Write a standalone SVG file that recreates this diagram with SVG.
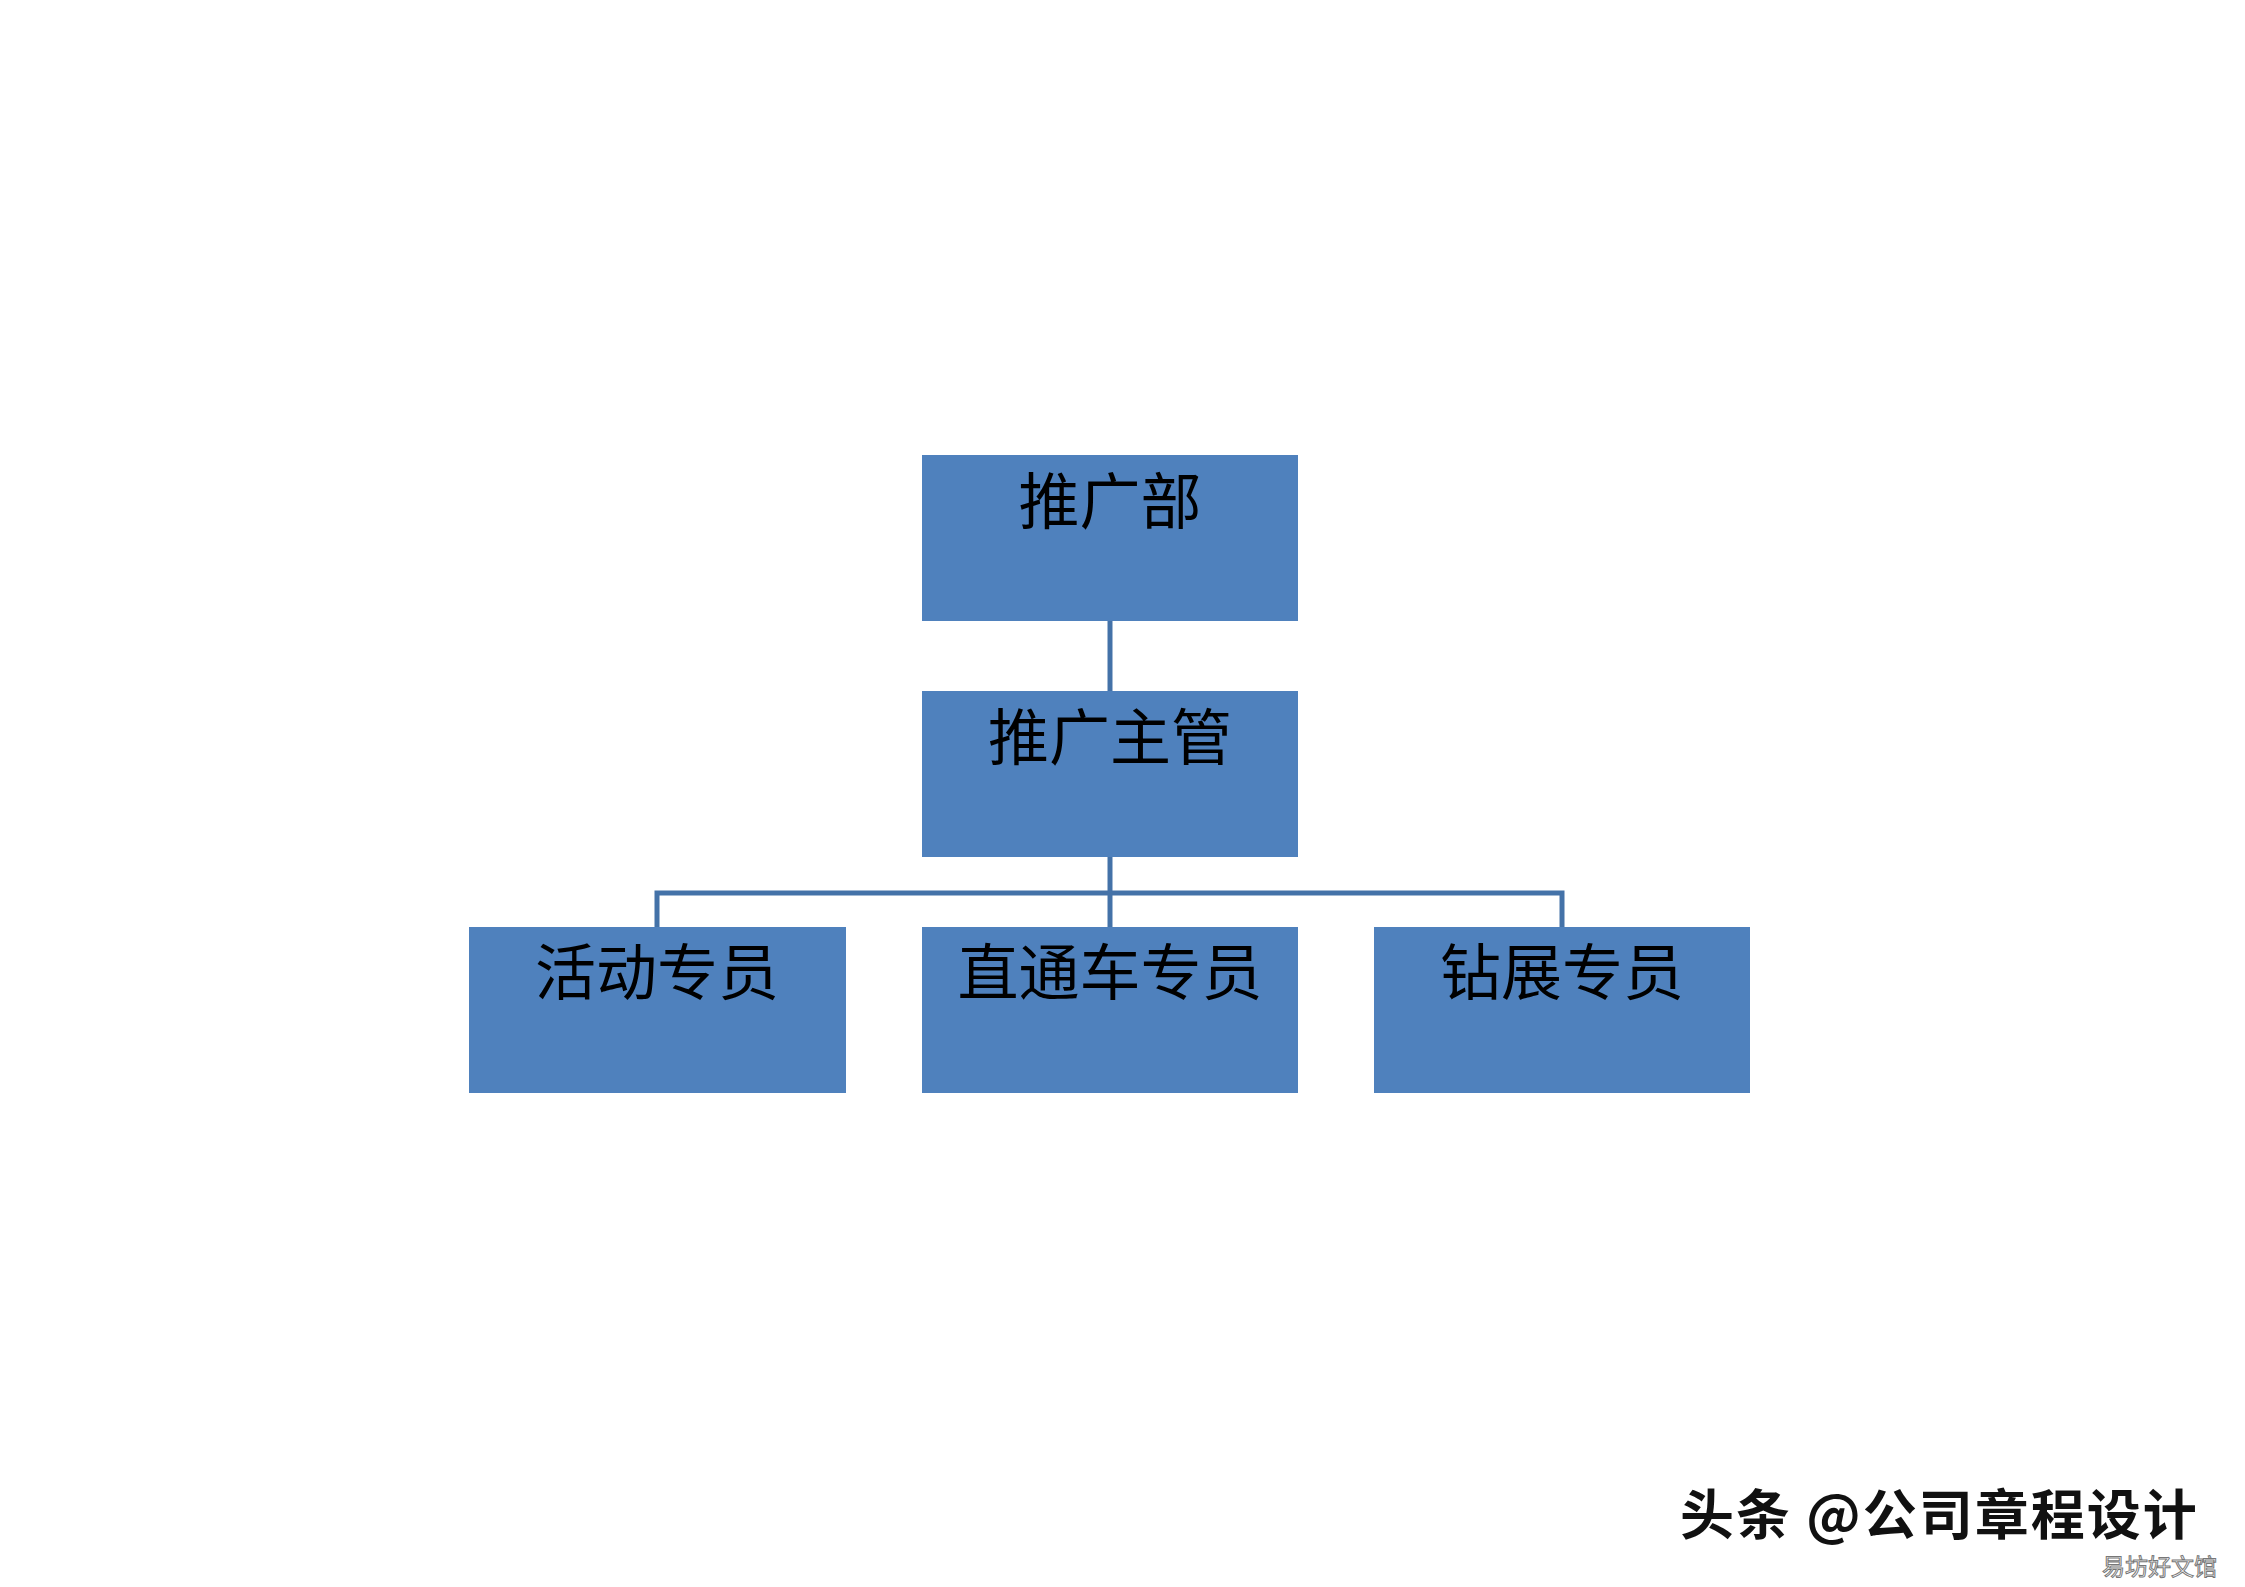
<svg xmlns="http://www.w3.org/2000/svg" width="2245" height="1587" viewBox="0 0 2245 1587">
<style>
.box{fill:#4F81BD;}
.lbl{font-family:"Noto Sans CJK SC","Liberation Serif",serif;font-size:61px;fill:#000;text-anchor:middle;}
.con{stroke:#4472A8;stroke-width:5;fill:none;}
.wm{font-family:"Noto Sans CJK SC","Liberation Sans",sans-serif;font-size:54px;font-weight:bold;fill:#111;letter-spacing:2px;}
.wm2{font-family:"Noto Sans CJK SC","Liberation Sans",sans-serif;font-size:23px;fill:#fff;stroke:#777;stroke-width:1;}
</style>
<rect width="2245" height="1587" fill="#fff"/>
<g id="connectors">
<line class="con" x1="1110" y1="621" x2="1110" y2="691"/>
<line class="con" x1="1110" y1="857" x2="1110" y2="927"/>
<polyline class="con" points="657,927 657,893 1562,893 1562,927"/>
</g>
<g id="n1"><rect class="box" x="922" y="455" width="376" height="166"/><text class="lbl" x="1110" y="524">推广部</text></g>
<g id="n2"><rect class="box" x="922" y="691" width="376" height="166"/><text class="lbl" x="1110" y="760">推广主管</text></g>
<g id="n3"><rect class="box" x="469" y="927" width="377" height="166"/><text class="lbl" x="657" y="995">活动专员</text></g>
<g id="n4"><rect class="box" x="922" y="927" width="376" height="166"/><text class="lbl" x="1110" y="995">直通车专员</text></g>
<g id="n5"><rect class="box" x="1374" y="927" width="376" height="166"/><text class="lbl" x="1562" y="995">钻展专员</text></g>
<g id="watermark">
<text class="wm" x="1680" y="1535">头条 @公司章程设计</text>
<text class="wm2" x="2102" y="1575">易坊好文馆</text>
</g>
</svg>
